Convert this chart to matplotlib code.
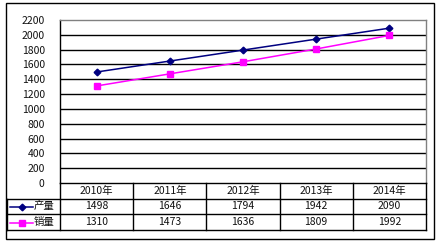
import matplotlib
matplotlib.use("Agg")
import matplotlib.pyplot as plt
from matplotlib.patches import Rectangle
from matplotlib.lines import Line2D

plt.rcParams['font.family'] = ['Noto Sans CJK SC', 'DejaVu Sans']

years = ['2010年', '2011年', '2012年', '2013年', '2014年']
production = [1498, 1646, 1794, 1942, 2090]
sales = [1310, 1473, 1636, 1809, 1992]
series_names = ['产量', '销量']
yticks = list(range(0, 2201, 200))

W, H = 444, 244
fig = plt.figure(figsize=(W / 100, H / 100), dpi=100)

def fx(px):
    return px / W

def fy(py):
    return (H - py) / H

# main plot area: x 60..426, y 20..183
ax = fig.add_axes([fx(60), fy(183), fx(426) - fx(60), fy(20) - fy(183)])
x = list(range(len(years)))
colors = ['#000080', '#FF00FF']
markers = ['D', 's']
msizes = [3.4, 4.4]
for vals, c, m, ms in zip([production, sales], colors, markers, msizes):
    ax.plot(x, vals, color=c, lw=1.1, marker=m, ms=ms, mec=c, mfc=c)
ax.set_xlim(-0.5, 4.5)
ax.set_ylim(0, 2200)
ax.set_yticks(yticks)
ax.set_yticklabels([str(v) for v in yticks], fontsize=7.5, color='#111111')
ax.tick_params(axis='y', length=0, pad=11)
ax.set_xticks([])
for v in yticks[1:-1]:
    ax.axhline(v, color='black', lw=1, zorder=0)
ax.spines['left'].set_color('black')
ax.spines['top'].set_color('#808080')
ax.spines['right'].set_color('#808080')
ax.spines['bottom'].set_visible(False)
for s in ax.spines.values():
    s.set_linewidth(1)

# data table below
tax = fig.add_axes([fx(60), fy(229.5), fx(426) - fx(60), fy(183) - fy(229.5)])
tax.set_xlim(-0.5, 4.5)
tax.set_ylim(3, 0)
tax.axis('off')
colw_px = 366 / 5
lab_left = -0.5 - 53 / colw_px
kw = dict(color='black', lw=1, clip_on=False)
tax.plot([-0.5, 4.5], [0, 0], **kw)
for r in (1, 2, 3):
    tax.plot([lab_left, 4.5], [r, r], **kw)
for b in [i - 0.5 for i in range(len(years) + 1)]:
    tax.plot([b, b], [0, 3], **kw)
tax.plot([lab_left, lab_left], [1, 3], **kw)

for i, yl in enumerate(years):
    tax.text(i, 0.5, yl, ha='center', va='center', fontsize=7.5, color='#111111')
for r, vals in enumerate([production, sales], start=1):
    for i, v in enumerate(vals):
        tax.text(i, r + 0.5, str(v), ha='center', va='center', fontsize=7.5, color='#111111')

# legend keys in label column
for r, (name, c, m, ms) in enumerate(zip(series_names, colors, markers, msizes), start=1):
    x0 = lab_left + 3 / colw_px
    x1 = lab_left + 26 / colw_px
    tax.add_line(Line2D([x0, x1], [r + 0.55, r + 0.55], color=c, lw=1.1, clip_on=False))
    tax.plot([(x0 + x1) / 2], [r + 0.55], marker=m, ms=ms, color=c, clip_on=False)
    tax.text(lab_left + 27 / colw_px, r + 0.5, name, ha='left', va='center', fontsize=7.5,
             color='#111111')

# outer chart border
fig.patches.append(Rectangle((fx(6), fy(239)), fx(434) - fx(6), fy(3) - fy(239),
                             transform=fig.transFigure, fill=False, ec='black', lw=1))

fig.savefig('out.png', dpi=100)
